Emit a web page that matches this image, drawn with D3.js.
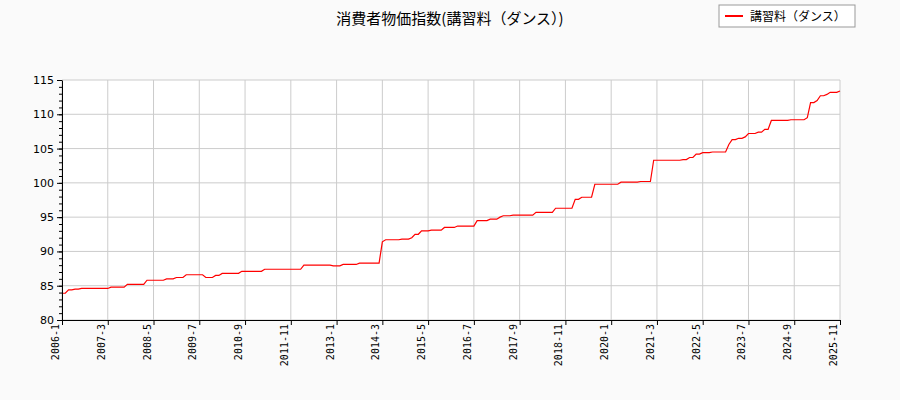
<!DOCTYPE html>
<html><head><meta charset="utf-8">
<script src="https://cdn.jsdelivr.net/npm/d3@7"></script>
<style>body{margin:0;background:#fafafa}</style></head>
<body><svg id="c" width="900" height="400"></svg>
<script>
// step change points: month index since 2006-1, and value
const changeMonths = [0,2,4,6,15,20,26,32,35,38,44,47,49,55,62,74,83,86,91,98,99,104,107,108,110,113,117,121,127,131,134,135,138,145,151,157,159,163,171,177,181,190,192,194,196,199,204,205,207,209,210,213,215,217,223,228,229,231,232,234,235,238];
const changeValues = [83.9,84.4,84.5,84.6,84.8,85.2,85.8,86.0,86.2,86.6,86.2,86.5,86.8,87.1,87.4,88.0,87.9,88.1,88.3,91.4,91.7,91.8,92.0,92.5,93.0,93.1,93.5,93.7,94.5,94.7,95.0,95.2,95.3,95.7,96.3,97.6,97.9,99.8,100.1,100.2,103.3,103.4,103.7,104.2,104.4,104.5,105.6,106.3,106.5,106.7,107.2,107.4,107.8,109.1,109.2,109.5,111.7,112.0,112.7,112.9,113.2,113.4];
const xTickLabels = ["2006-1","2007-3","2008-5","2009-7","2010-9","2011-11","2013-1","2014-3","2015-5","2016-7","2017-9","2018-11","2020-1","2021-3","2022-5","2023-7","2024-9","2025-11"];
const yTicks = [80,85,90,95,100,105,110,115];
const seriesName = "講習料（ダンス）";
const title = "消費者物価指数(講習料（ダンス）)";
const lastMonth = 238;

const svg = d3.select("#c");
const L=62,R=840,T=80,B=320;
const x = d3.scaleLinear().domain([0,lastMonth]).range([L,R]);
const y = d3.scaleLinear().domain([80,115]).range([B,T]);
svg.append("rect").attr("x",L).attr("y",T).attr("width",R-L).attr("height",B-T).attr("fill","#fff");
const tickM = xTickLabels.map((_,i)=>i*14);
svg.append("g").selectAll("line").data(tickM).join("line")
 .attr("x1",d=>x(d)).attr("x2",d=>x(d)).attr("y1",T).attr("y2",B).attr("stroke","#ccc");
svg.append("g").selectAll("line").data(yTicks).join("line")
 .attr("x1",L).attr("x2",R).attr("y1",d=>y(d)).attr("y2",d=>y(d)).attr("stroke","#ccc");
// monthly values held between change points, joined by straight segments
const pts = [];
changeMonths.forEach((m,i)=>{
  pts.push([m,changeValues[i]]);
  const next = i+1<changeMonths.length ? changeMonths[i+1] : lastMonth+1;
  if (next-1>m) pts.push([Math.min(next-1,lastMonth),changeValues[i]]);
});
svg.append("path").datum(pts).attr("fill","none").attr("stroke","red").attr("stroke-width",1.2)
 .attr("d",d3.line().x(d=>x(d[0])).y(d=>y(d[1])));
const font="DejaVu Sans Mono, monospace";
const ya = d3.axisLeft(y).tickValues(yTicks).tickSize(5).tickSizeOuter(0);
const yg = svg.append("g").attr("transform",`translate(${L},0)`).call(ya);
yg.selectAll("text").attr("font-family","DejaVu Sans").attr("font-size",11).attr("fill","#000");
svg.append("g").attr("transform",`translate(${L},0)`).call(d3.axisLeft(y).ticks(35).tickSize(3).tickFormat("")).select(".domain").remove();
const xa = d3.axisBottom(x).tickValues(tickM).tickFormat((d,i)=>xTickLabels[i]).tickSize(5).tickSizeOuter(0);
const xg = svg.append("g").attr("transform",`translate(0,${B})`).call(xa);
xg.selectAll("text").attr("font-family",font).attr("font-size",10).attr("fill","#000")
 .attr("transform","rotate(-90)").attr("text-anchor","end").attr("dy","-0.35em").attr("y",0).attr("x",-4);
svg.append("text").attr("x",450).attr("y",24).attr("text-anchor","middle").attr("font-family","Noto Sans CJK JP").attr("font-size",15).text(title);
svg.append("rect").attr("x",719).attr("y",5).attr("width",136).attr("height",22).attr("fill","#fff").attr("stroke","#999");
svg.append("line").attr("x1",725).attr("x2",743).attr("y1",16).attr("y2",16).attr("stroke","red").attr("stroke-width",2);
svg.append("text").attr("x",750).attr("y",20.5).attr("font-family","Noto Sans CJK JP").attr("font-size",12).text(seriesName);
</script></body></html>
